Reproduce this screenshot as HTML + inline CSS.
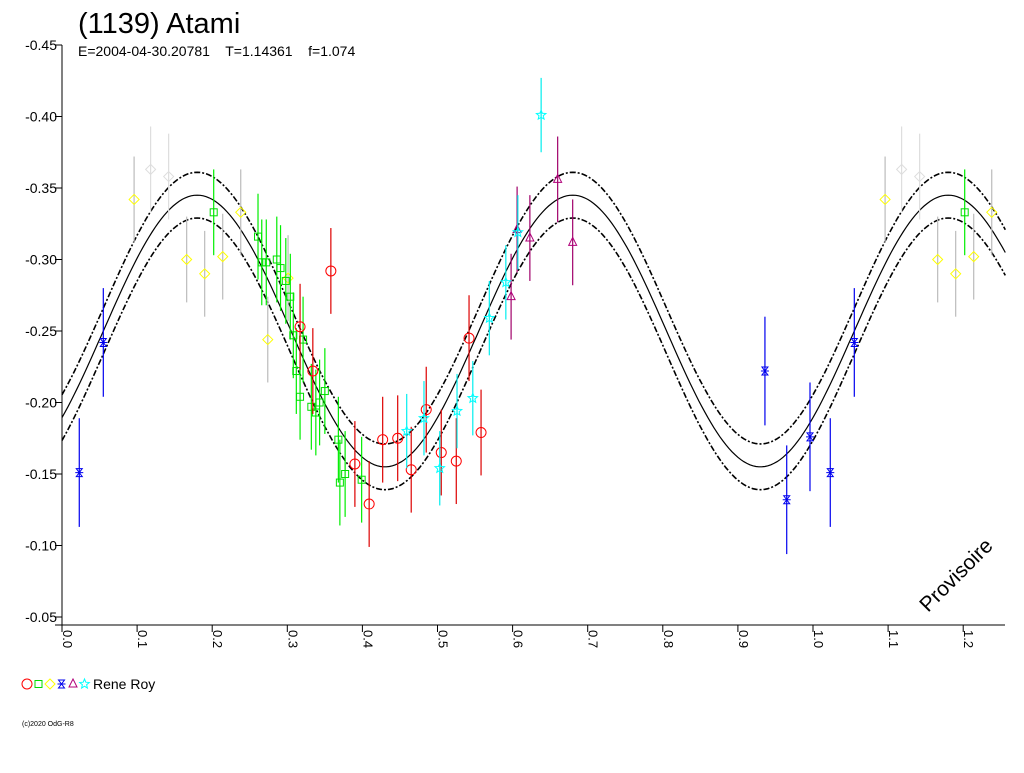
<!DOCTYPE html>
<html><head><meta charset="utf-8"><style>
body{margin:0;background:#fff;width:1024px;height:768px;overflow:hidden;font-family:"Liberation Sans",sans-serif}
svg text{font-family:"Liberation Sans",sans-serif}
</style></head><body>
<svg id="chart" width="1024" height="768" xmlns="http://www.w3.org/2000/svg">
<text x="78" y="33" font-size="29">(1139) Atami</text>
<text x="78" y="56" font-size="14" style="white-space:pre" xml:space="preserve">E=2004-04-30.20781    T=1.14361    f=1.074</text>
<g id="axes"></g>
<g id="curves"></g>
<g id="points"></g>
<text x="0" y="0" font-size="21" transform="translate(928,613) rotate(-45)">Provisoire</text>
<g id="legend"></g>
<text x="22" y="726" font-size="7">(c)2020 OdG-R8</text>
</svg>
<script>
const xTicks=[0.0,0.1,0.2,0.3,0.4,0.5,0.6,0.7,0.8,0.9,1.0,1.1,1.2];
const yTicks=[-0.45,-0.40,-0.35,-0.30,-0.25,-0.20,-0.15,-0.10,-0.05];
const fitMean=-0.25, fitAmp=0.095, fitPhase=0.18, fitBand=0.016;
const redX=[0.358,0.317,0.334,0.390,0.427,0.447,0.409,0.465,0.485,0.505,0.525,0.542,0.558];
const redY=[-0.292,-0.253,-0.222,-0.157,-0.174,-0.175,-0.129,-0.153,-0.195,-0.165,-0.159,-0.245,-0.179];
const greenX=[0.202,0.261,0.266,0.272,0.286,0.291,0.298,0.304,0.308,0.312,0.317,0.321,0.332,0.338,0.343,0.350,0.368,0.370,0.377,0.399];
const greenY=[-0.333,-0.316,-0.298,-0.298,-0.300,-0.294,-0.285,-0.274,-0.247,-0.222,-0.204,-0.244,-0.197,-0.193,-0.200,-0.208,-0.174,-0.144,-0.150,-0.146];
const yellowX=[0.096,0.166,0.190,0.214,0.238,0.301,0.274];
const yellowY=[-0.342,-0.300,-0.290,-0.302,-0.333,-0.287,-0.244];
const grayX=[0.118,0.142];
const grayY=[-0.363,-0.358];
const blueX=[0.023,0.055,0.936,0.965,0.996];
const blueY=[-0.151,-0.242,-0.222,-0.132,-0.176];
const purpleX=[0.660,0.680,0.623,0.598,0.606];
const purpleY=[-0.356,-0.312,-0.315,-0.274,-0.321];
const cyanX=[0.638,0.607,0.591,0.569,0.547,0.526,0.503,0.482,0.459];
const cyanY=[-0.401,-0.319,-0.284,-0.259,-0.203,-0.194,-0.154,-0.189,-0.180];

const NS="http://www.w3.org/2000/svg";
const X0=62,XW=751,Y0=45,YH=1430;
const sx=v=>X0+v*XW/1.0;
const sy=v=>Y0+(v+0.45)*YH;
const XMAX=1.256;
function el(t,a,p){const e=document.createElementNS(NS,t);for(const k in a)e.setAttribute(k,a[k]);p.appendChild(e);return e;}
const axes=document.getElementById('axes');
let ln=el('line',{x1:62,y1:sy(-0.45),x2:62,y2:625,stroke:'#000'},axes);


ln=el('line',{x1:55,y1:625,x2:1005,y2:625,stroke:'#000'},axes);


yTicks.forEach(v=>{
  const t=el('line',{x1:55,y1:sy(v),x2:62,y2:sy(v),stroke:'#000'},axes);
  
  
  const l=el('text',{x:57,y:sy(v)+5,'font-size':14,'text-anchor':'end'},axes);
  
  
  l.textContent=v.toFixed(2);
});
xTicks.forEach(v=>{
  const t=el('line',{x1:sx(v),y1:625,x2:sx(v),y2:632,stroke:'#000'},axes);
  
  
  const l=el('text',{x:0,y:0,'font-size':13,transform:`translate(${sx(v)+1},630) rotate(90)`},axes);
  
  
  l.textContent=v.toFixed(1);
});
const fit=x=>fitMean-fitAmp*Math.cos(4*Math.PI*(x-fitPhase));
const curves=document.getElementById('curves');
[[0,'none',1.2,'fit-curve'],[fitBand,'6 2 2 2',1.6,'fit-upper-bound'],[-fitBand,'6 2 2 2',1.6,'fit-lower-bound']].forEach(([o,d,w,n])=>{
  let p='';for(let x=0;x<=XMAX+1e-9;x+=0.004){p+=(p?'L':'M')+sx(x).toFixed(1)+','+sy(fit(x)-o).toFixed(1);}
  const e=el('path',{d:p,fill:'none',stroke:'#000','stroke-width':w,'stroke-dasharray':d},curves);
  
  
});
const pts=document.getElementById('points');
function marker(kind,cx,cy,col,g){
  let e;
  if(kind==='circle')e=el('circle',{cx,cy,r:5,fill:'none',stroke:col},g);
  else if(kind==='square')e=el('rect',{x:cx-3.5,y:cy-3.5,width:7,height:7,fill:'none',stroke:col},g);
  else if(kind==='diamond')e=el('polygon',{points:`${cx},${cy-5} ${cx+5},${cy} ${cx},${cy+5} ${cx-5},${cy}`,fill:'none',stroke:col},g);
  else if(kind==='triangle')e=el('polygon',{points:`${cx},${cy-5} ${cx+4},${cy+3} ${cx-4},${cy+3}`,fill:'none',stroke:col},g);
  else if(kind==='hour')e=el('path',{d:`M${cx-3},${cy-4}H${cx+3}L${cx-3},${cy+4}H${cx+3}ZM${cx-4},${cy}H${cx+4}`,fill:'none',stroke:col},g);
  else {let s='';for(let i=0;i<10;i++){const r=i%2?2.2:5,a=-Math.PI/2+i*Math.PI/5;s+=(cx+r*Math.cos(a)).toFixed(1)+','+(cy+r*Math.sin(a)).toFixed(1)+' ';}
    e=el('polygon',{points:s,fill:'none',stroke:col},g);}
  return e;
}
function series(xs,ys,kind,col,bar,err,name){
  const g=el('g',{},pts);
  
  
  xs.forEach((x,i)=>{
    [x,x+1,x-1].forEach(xx=>{
      if(xx<0||xx>XMAX)return;
      const cx=sx(xx),cy=sy(ys[i]);
      const b=el('line',{x1:cx,y1:sy(ys[i]-err),x2:cx,y2:sy(ys[i]+err),stroke:bar,'stroke-width':1.2},g);
      
      
      const m=marker(kind,cx,cy,col,g);
      
      
    });
  });
}
series(grayX,grayY,'diamond','#ddd','#ddd',0.03,'gray-series');
series(yellowX,yellowY,'diamond','#ff0','#bbb',0.03,'yellow-series');
series(greenX,greenY,'square','#0d0','#0e0',0.03,'green-series');
series(redX,redY,'circle','#f00','#d00',0.03,'red-series');
series(blueX,blueY,'hour','#00e','#00e',0.038,'blue-series');
series(purpleX,purpleY,'triangle','#b0007a','#a0006a',0.03,'purple-series');
series(cyanX,cyanY,'star','#0ff','#0ee',0.026,'cyan-series');
const lg=document.getElementById('legend');
[['circle','#f00'],['square','#0d0'],['diamond','#ff0'],['hour','#00e'],['triangle','#b0007a'],['star','#0ff']].forEach(([k,c],i)=>{
  const m=marker(k,27+i*11.5,684,c,lg);
  
  
});
const lt=el('text',{x:93,y:689,'font-size':14},lg);


lt.textContent='Rene Roy';
</script>
</body></html>
